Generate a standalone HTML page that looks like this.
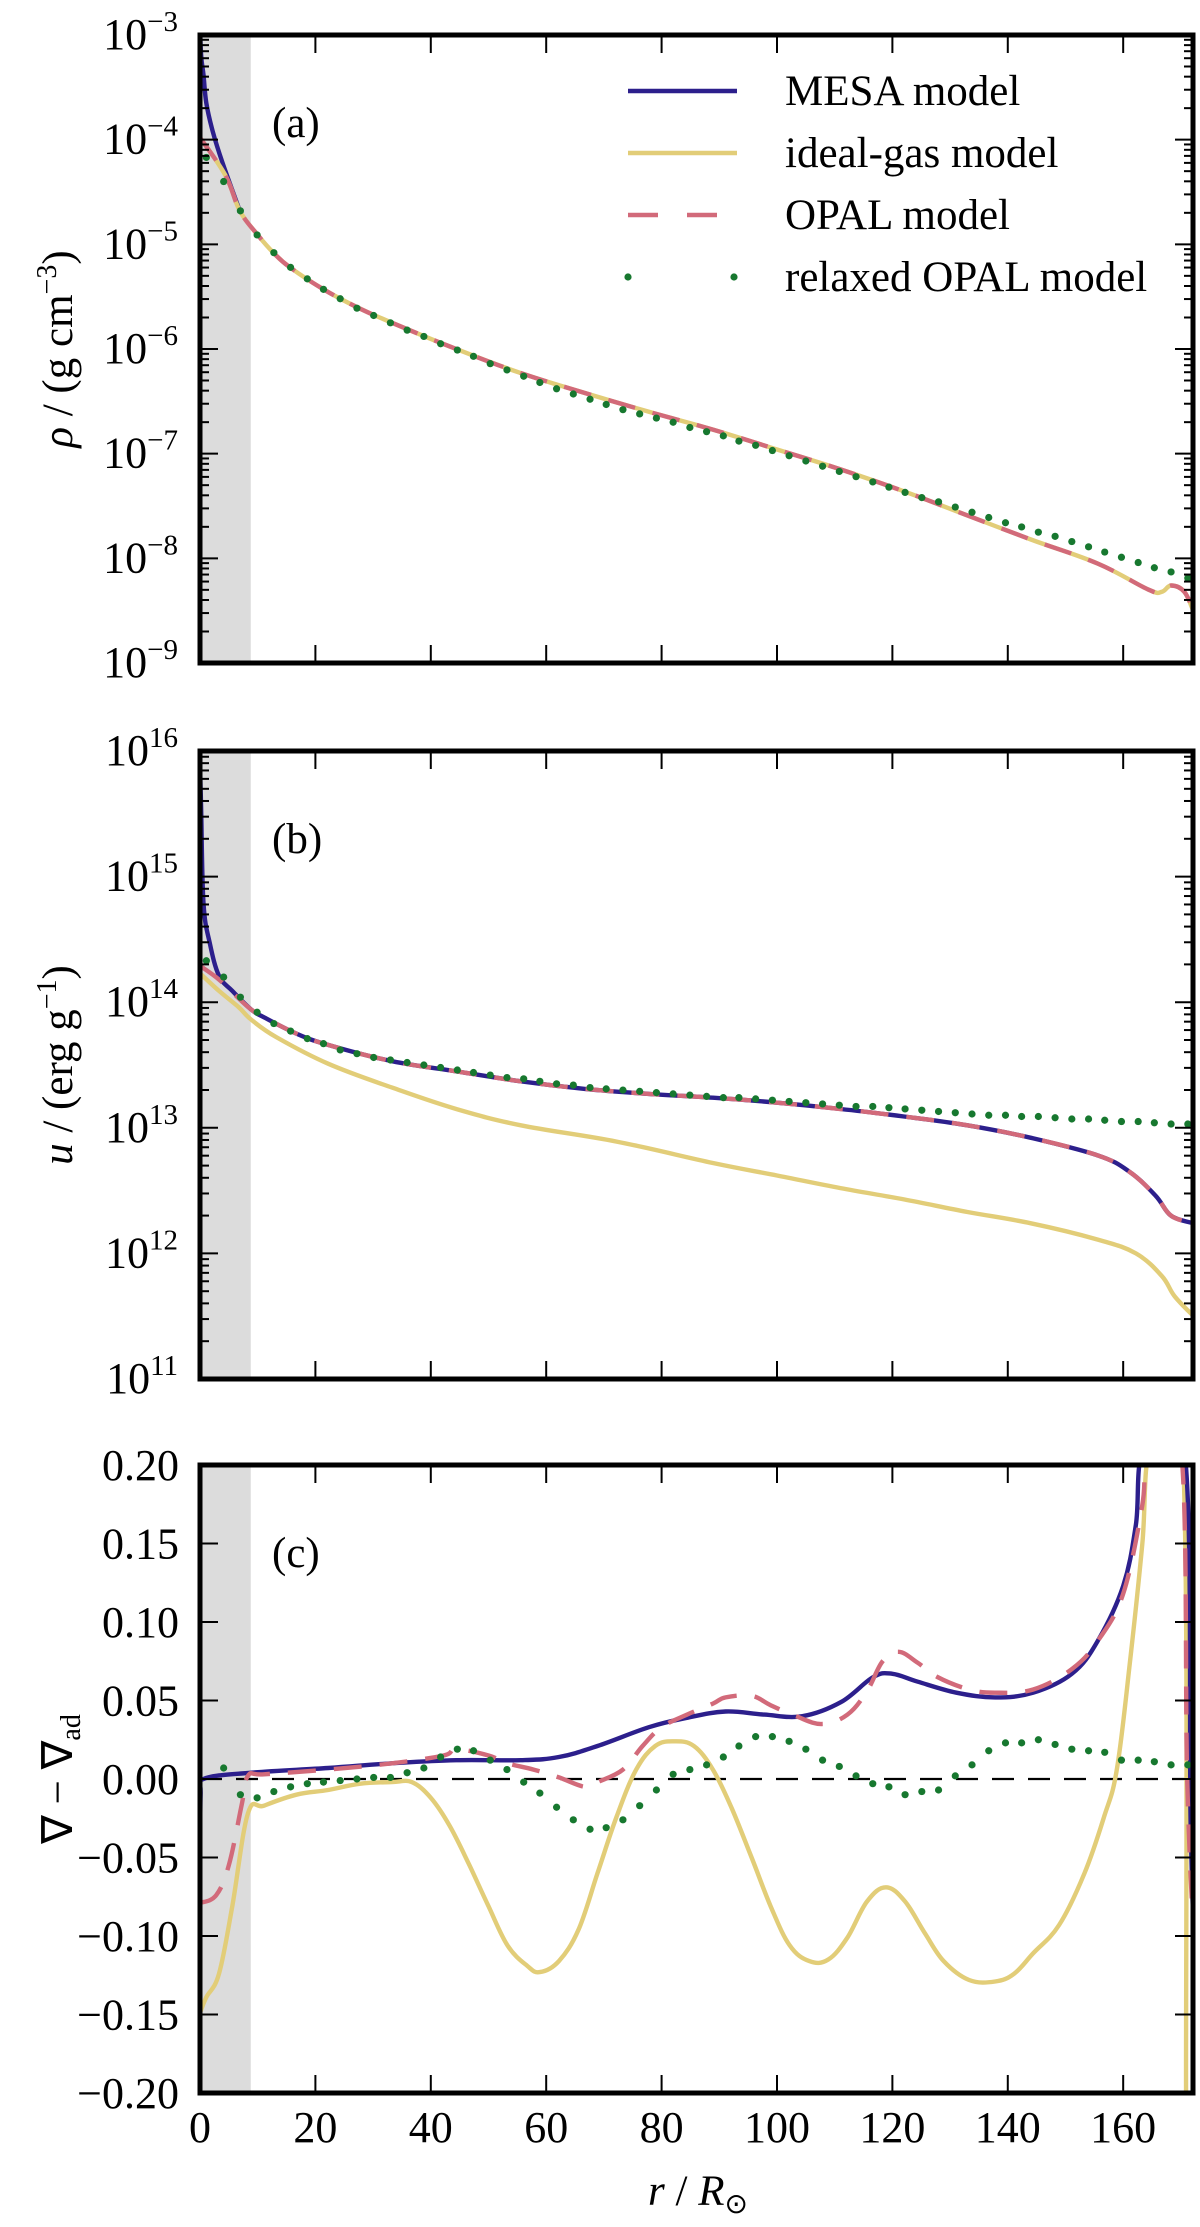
<!DOCTYPE html>
<html><head><meta charset="utf-8"><style>
body{margin:0;background:#fff;}
svg{display:block;font-family:"Liberation Serif","Times New Roman",serif;}
text{font-family:"Liberation Serif","Times New Roman",serif;}
</style></head><body>
<svg id="fig" width="1200" height="2227" viewBox="0 0 1200 2227" xmlns="http://www.w3.org/2000/svg" font-family="Liberation Serif, serif"></svg>
<script>
// ---------- data ----------
const dotR=[1.1,4.1,7.0,9.9,12.8,15.7,18.6,21.4,24.3,27.2,30.1,33.0,35.9,38.8,41.7,44.6,47.4,50.3,53.2,56.1,58.9,61.8,64.7,67.6,70.4,73.3,76.2,79.1,82.0,84.9,87.8,90.7,93.4,96.3,99.2,102.1,105.0,107.9,110.8,113.7,116.6,119.4,122.2,125.1,128.0,130.9,133.8,136.7,139.6,142.4,145.3,148.2,151.1,154.0,156.8,159.7,162.6,165.4,168.3,171.2];
// panel a (log10 rho)
const rhoLineR=[0,4.4,6.9,10,12.8,15.6,21.4,27.2,33.3,44.4,55.6,66.7,77.8,88.9,100,111,122,133,144,155.6,164.4,166.7,168.3,170.6,172.2];
const rhoLine=[-3.98,-4.34,-4.68,-4.91,-5.085,-5.22,-5.43,-5.60,-5.75,-6.0,-6.23,-6.42,-6.60,-6.77,-6.96,-7.15,-7.36,-7.59,-7.82,-8.05,-8.30,-8.32,-8.26,-8.32,-8.51];
const rhoMesaR=[0,0.2,0.6,1.1,2.2,3.9,6.9];
const rhoMesa=[-2.9,-3.2,-3.38,-3.65,-3.92,-4.22,-4.68];
const rhoDots=[-4.17,-4.40,-4.68,-4.91,-5.08,-5.22,-5.33,-5.43,-5.52,-5.61,-5.68,-5.75,-5.82,-5.88,-5.95,-6.01,-6.07,-6.14,-6.20,-6.26,-6.32,-6.38,-6.43,-6.48,-6.53,-6.58,-6.62,-6.66,-6.70,-6.75,-6.79,-6.83,-6.88,-6.92,-6.97,-7.02,-7.07,-7.12,-7.17,-7.22,-7.27,-7.32,-7.37,-7.42,-7.46,-7.51,-7.56,-7.61,-7.66,-7.70,-7.75,-7.79,-7.84,-7.89,-7.94,-7.99,-8.04,-8.09,-8.13,-8.19];
// panel b (log10 u)
const uMesaR=[0,0.2,0.6,1.7,3.3,5.6,8.9,11.1,16.7,22.2,33.3,44.4,55.6,66.7,77.8,88.9,100,111,122,133,144,155.6,161.1,165.6,168.3,172.2];
const uMesa=[15.9,15.52,14.79,14.47,14.21,14.09,13.94,13.88,13.75,13.66,13.53,13.45,13.37,13.31,13.27,13.24,13.20,13.15,13.09,13.02,12.92,12.78,12.65,12.46,12.30,12.24];
const uOpalR=[0,3.3,6.7,8.9,11.1,16.7,22.2,33.3,44.4,55.6,66.7,77.8,88.9,100,111,122,133,144,155.6,161.1,165.6,168.3,172.2];
const uOpal=[14.29,14.18,14.03,13.94,13.88,13.75,13.66,13.53,13.45,13.37,13.31,13.27,13.24,13.20,13.15,13.09,13.02,12.92,12.78,12.65,12.46,12.30,12.24];
const uIdealR=[0,3.3,6.7,8.9,13.3,22.2,33.3,44.4,55.6,72.2,88.9,100,111,122,133,144,155.6,162.2,166.7,168.9,172.2];
const uIdeal=[14.23,14.09,13.96,13.86,13.72,13.51,13.32,13.15,13.02,12.89,12.72,12.62,12.52,12.43,12.33,12.24,12.11,12.00,11.82,11.66,11.50];
const uDots=[14.33,14.20,14.04,13.92,13.83,13.77,13.71,13.67,13.62,13.59,13.56,13.54,13.52,13.50,13.48,13.46,13.44,13.42,13.40,13.39,13.37,13.35,13.34,13.32,13.31,13.30,13.29,13.28,13.27,13.26,13.25,13.24,13.24,13.23,13.22,13.21,13.20,13.19,13.18,13.17,13.17,13.16,13.15,13.14,13.13,13.12,13.11,13.10,13.10,13.09,13.09,13.08,13.07,13.07,13.06,13.05,13.05,13.04,13.03,13.03];
// panel c (nabla - nabla_ad)
const gMesaR=[0,0.1,0.6,8.9,22.2,33.3,44.4,55.6,62.2,68.9,77.8,84.4,91.1,97.8,104.4,111.1,116.7,120,124.4,131.1,137.8,144.4,151.1,155.6,160,162.2,163.6,170.6,171.7,172.4];
const gMesa=[-0.070,-0.010,0.0,0.004,0.007,0.010,0.012,0.012,0.014,0.021,0.033,0.039,0.043,0.041,0.040,0.049,0.065,0.067,0.062,0.055,0.052,0.055,0.067,0.088,0.123,0.162,0.21,0.21,-0.03,-0.116];
const gOpalR=[0,2.8,5,7.2,8.3,11.1,22.2,33.3,42.2,44.4,50,53.3,57.8,62.2,66.7,68.9,73.3,76.7,80,84.4,88.9,91.1,95.6,98.9,103.3,107.8,112.2,115.6,118.3,121.1,124.4,127.8,133.3,137.8,144.4,151.1,155.6,160,163.3,164.4,170,171.1,172.2];
const gOpal=[-0.079,-0.074,-0.055,-0.017,0.002,0.003,0.006,0.010,0.015,0.019,0.015,0.010,0.006,0.001,-0.005,-0.002,0.006,0.021,0.033,0.041,0.048,0.052,0.053,0.047,0.040,0.035,0.041,0.056,0.075,0.081,0.074,0.065,0.057,0.055,0.057,0.070,0.088,0.118,0.174,0.21,0.21,0.0,-0.10];
const gIdealR=[0,1.1,3.3,5.6,8.3,11.1,16.7,22.2,27.8,33.3,36.7,40,43.3,46.7,50,53.3,56.7,58.9,62.2,65.6,68.9,72.2,75.6,78.9,82.2,85.6,88.9,92.2,95.6,98.9,102.2,105.6,108.9,112.2,115.6,118.9,122.2,125.6,128.9,133.3,137.8,141.1,144.4,148.9,153.3,156.7,158.9,161.1,163.3,164.7,170.3,170.9];
const gIdeal=[-0.149,-0.139,-0.124,-0.081,-0.022,-0.017,-0.010,-0.007,-0.003,-0.002,-0.002,-0.012,-0.030,-0.055,-0.081,-0.106,-0.119,-0.123,-0.116,-0.096,-0.060,-0.024,0.006,0.021,0.024,0.021,0.006,-0.019,-0.050,-0.081,-0.106,-0.116,-0.115,-0.101,-0.078,-0.069,-0.078,-0.098,-0.116,-0.128,-0.129,-0.124,-0.111,-0.093,-0.060,-0.024,0.006,0.072,0.149,0.21,0.21,-0.21];
const gDots=[0.007,-0.010,-0.012,-0.008,-0.005,-0.003,-0.002,-0.001,0.0,0.001,0.001,0.004,0.007,0.014,0.019,0.018,0.012,0.006,-0.002,-0.009,-0.018,-0.026,-0.032,-0.031,-0.026,-0.017,-0.007,0.003,0.006,0.009,0.014,0.021,0.027,0.027,0.024,0.019,0.012,0.008,0.002,-0.003,-0.005,-0.010,-0.008,-0.007,0.002,0.009,0.018,0.023,0.023,0.025,0.022,0.019,0.018,0.017,0.012,0.012,0.011,0.009,0.009];
const gDotR=dotR.slice(1);
const xTicks=[0,20,40,60,80,100,120,140,160];
const cTicks=[0.20,0.15,0.10,0.05,0.00,-0.05,-0.10,-0.15,-0.20];
const cTickLabels=["0.20","0.15","0.10","0.05","0.00","\u22120.05","\u22120.10","\u22120.15","\u22120.20"];

// ---------- layout ----------
const NS="http://www.w3.org/2000/svg";
const svg=document.getElementById('fig');
const L=200,W=993,H=628,XMAX=172.1;
const FONT="Liberation Serif, Times New Roman, serif";
const C={mesa:"#2c1f8c",ideal:"#e2cd78",opal:"#d26a7a",dots:"#17782f"};
function el(tag,attrs,parent){const e=document.createElementNS(NS,tag);for(const k in attrs)e.setAttribute(k,attrs[k]);(parent||svg).appendChild(e);return e;}
const xs=r=>L+r/XMAX*W;

function panel(top,ymin,ymax,name){
  const g=el('g',{});
  
  
  const ys=v=>top+(ymax-v)/(ymax-ymin)*H;
  const cid='clip-'+name;
  const cp=el('clipPath',{id:cid},g);el('rect',{x:L,y:top,width:W,height:H},cp);
  const band=el('rect',{x:L,y:top,width:xs(8.8)-L,height:H,fill:'#dcdcdc'},g);
  
  
  const plot=el('g',{'clip-path':'url(#'+cid+')'},g);
  return {g,ys,plot,top};
}
function smoothPath(pts){
  let d='M'+pts[0][0].toFixed(1)+' '+pts[0][1].toFixed(1);
  for(let i=0;i<pts.length-1;i++){
    const p0=pts[Math.max(0,i-1)],p1=pts[i],p2=pts[i+1],p3=pts[Math.min(pts.length-1,i+2)];
    const t=0.18;
    const c1=[p1[0]+(p2[0]-p0[0])*t,p1[1]+(p2[1]-p0[1])*t];
    const c2=[p2[0]-(p3[0]-p1[0])*t,p2[1]-(p3[1]-p1[1])*t];
    d+=' C'+c1[0].toFixed(1)+' '+c1[1].toFixed(1)+' '+c2[0].toFixed(1)+' '+c2[1].toFixed(1)+' '+p2[0].toFixed(1)+' '+p2[1].toFixed(1);
  }
  return d;
}
function line(P,R,V,color,name,dash){
  const pts=R.map((r,i)=>[xs(r),P.ys(V[i])]);
  const p=el('path',{d:smoothPath(pts),fill:'none',stroke:color,'stroke-width':4.4,'stroke-linejoin':'round'},P.plot);
  if(dash)p.setAttribute('stroke-dasharray',dash);
  
  
}
function dots(P,R,V,name){
  const g=el('g',{},P.plot);
  
  
  R.forEach((r,i)=>{const c=el('circle',{cx:xs(r),cy:P.ys(V[i]),r:3.6,fill:C.dots},g);
    
    });
}
function frame(P,log,ymin,ymax){
  const g=P.g;
  xTicks.forEach(t=>{if(t===0)return;const x=xs(t);
    el('line',{x1:x,x2:x,y1:P.top,y2:P.top+18,stroke:'#000','stroke-width':2},g);
    el('line',{x1:x,x2:x,y1:P.top+H,y2:P.top+H-18,stroke:'#000','stroke-width':2},g);});
  if(log){
    for(let d=ymin;d<ymax;d++){for(let m=1;m<10;m++){const v=d+Math.log10(m);const y=P.ys(v);const len=m===1?18:9;
      el('line',{x1:L,x2:L+len,y1:y,y2:y,stroke:'#000','stroke-width':2},g);
      el('line',{x1:L+W,x2:L+W-len,y1:y,y2:y,stroke:'#000','stroke-width':2},g);}}
    for(let d=ymin;d<=ymax;d++){const y=P.ys(d);
      const t=el('text',{x:178,y:y+14,'text-anchor':'end','font-size':44,'font-family':FONT},g);
      
      
      t.appendChild(document.createTextNode('10'));
      const s=el('tspan',{dy:-18,'font-size':29},t);s.textContent=(d<0?'\u2212':'')+Math.abs(d);}
  } else {
    cTicks.forEach((v,i)=>{const y=P.ys(v);
      el('line',{x1:L,x2:L+18,y1:y,y2:y,stroke:'#000','stroke-width':2},g);
      el('line',{x1:L+W,x2:L+W-18,y1:y,y2:y,stroke:'#000','stroke-width':2},g);
      const t=el('text',{x:179,y:y+15,'text-anchor':'end','font-size':44,'font-family':FONT},g);
      
      
      t.textContent=cTickLabels[i];});
  }
  const f=el('rect',{x:L,y:P.top,width:W,height:H,fill:'none',stroke:'#000','stroke-width':5},g);
  
  
}

const A=panel(35,-9,-3,'panel-a-density');
line(A,rhoMesaR,rhoMesa,C.mesa,'mesa-density-line');
line(A,rhoLineR,rhoLine,C.ideal,'ideal-gas-density-line');
line(A,rhoLineR,rhoLine,C.opal,'opal-density-line','28 18');
dots(A,dotR,rhoDots,'relaxed-opal-density-points');
frame(A,true,-9,-3);

const B=panel(751,11,16,'panel-b-energy');
line(B,uIdealR,uIdeal,C.ideal,'ideal-gas-energy-line');
line(B,uMesaR,uMesa,C.mesa,'mesa-energy-line');
line(B,uOpalR,uOpal,C.opal,'opal-energy-line','28 18');
dots(B,dotR,uDots,'relaxed-opal-energy-points');
frame(B,true,11,16);

const Cp=panel(1465,-0.2,0.2,'panel-c-gradient');
const z=el('line',{x1:L,x2:L+W,y1:Cp.ys(0),y2:Cp.ys(0),stroke:'#000','stroke-width':2.2,'stroke-dasharray':'22 14'},Cp.plot);


line(Cp,gIdealR,gIdeal,C.ideal,'ideal-gas-gradient-line');
line(Cp,gMesaR,gMesa,C.mesa,'mesa-gradient-line');
line(Cp,gOpalR,gOpal,C.opal,'opal-gradient-line','28 18');
dots(Cp,gDotR,gDots,'relaxed-opal-gradient-points');
frame(Cp,false);

xTicks.forEach(t=>{const tx=el('text',{x:xs(t),y:2142,'text-anchor':'middle','font-size':44,'font-family':FONT});
  
  
  tx.textContent=t;});
</script>
<div style="position:absolute;left:0;top:0;width:1200px;height:2227px;pointer-events:none;">
<svg width="1200" height="2227" style="position:absolute;left:0;top:0" font-family="Liberation Serif, serif">
 <g font-size="43" fill="#000" font-family="Liberation Serif, serif">
  <text x="272" y="137">(a)</text>
  <text x="272" y="853">(b)</text>
  <text x="272" y="1567">(c)</text>
  <text x="698" y="2205" text-anchor="middle"><tspan font-style="italic">r</tspan> / <tspan font-style="italic">R</tspan><tspan font-size="28" dy="8">⊙</tspan></text>
  <text transform="translate(72,349) rotate(-90)" text-anchor="middle"><tspan font-style="italic">ρ</tspan> / (g cm<tspan font-size="28" dy="-16">−3</tspan><tspan dy="16">)</tspan></text>
  <text transform="translate(72,1065) rotate(-90)" text-anchor="middle"><tspan font-style="italic">u</tspan> / (erg g<tspan font-size="28" dy="-16">−1</tspan><tspan dy="16">)</tspan></text>
  <text transform="translate(72,1779) rotate(-90)" text-anchor="middle">∇ − ∇<tspan font-size="28" dy="8">ad</tspan></text>
 </g>
 <g font-size="43" font-family="Liberation Serif, serif">
  <line x1="628" x2="737" y1="91" y2="91" stroke="#2c1f8c" stroke-width="4.4"/>
  <text x="785" y="105">MESA model</text>
  <line x1="628" x2="737" y1="153" y2="153" stroke="#e2cd78" stroke-width="4.4"/>
  <text x="785" y="167">ideal-gas model</text>
  <line x1="628" x2="737" y1="215" y2="215" stroke="#d26a7a" stroke-width="4.4" stroke-dasharray="30 29"/>
  <text x="785" y="229">OPAL model</text>
  <circle cx="628" cy="277" r="3.6" fill="#17782f"/><circle cx="734" cy="277" r="3.6" fill="#17782f"/>
  <text x="785" y="291">relaxed OPAL model</text>
 </g>
</svg>
</div>
</body></html>
